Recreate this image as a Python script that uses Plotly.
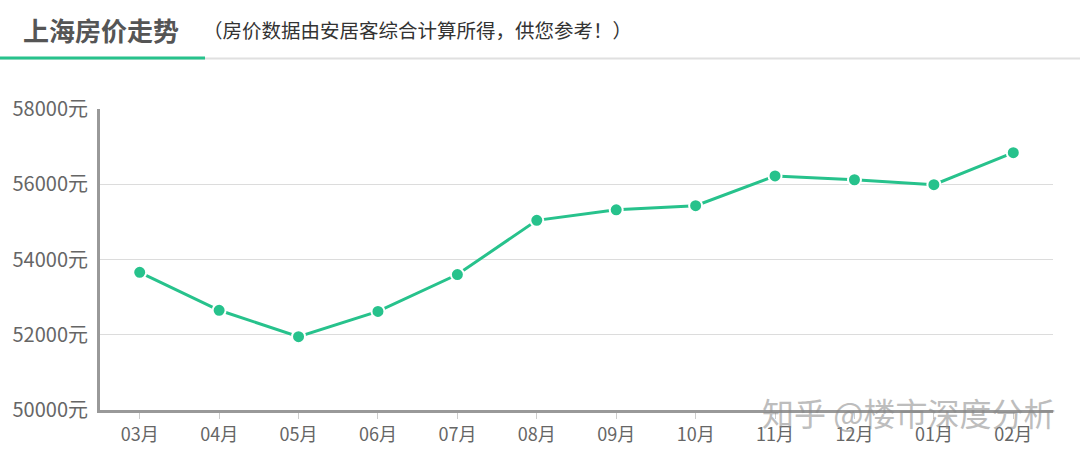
import plotly.graph_objects as go

months = ["03月", "04月", "05月", "06月", "07月", "08月", "09月", "10月", "11月", "12月", "01月", "02月"]
prices = [53660, 52650, 51950, 52620, 53600, 55040, 55320, 55430, 56220, 56120, 55990, 56840]
y_ticks = [50000, 52000, 54000, 56000, 58000]
y_tick_labels = [f"{v}元" for v in y_ticks]

W, H = 1080, 461
ML, MR, MT, MB = 100, 27, 109, 51
PW, PH = W - ML - MR, H - MT - MB

def px_x(p):
    return (p - ML) / PW

def px_y(p):
    return (H - MB - p) / PH

FONT = "Noto Sans CJK SC, Microsoft YaHei, sans-serif"
GREEN = "#27c28c"

fig = go.Figure()
fig.add_trace(go.Scatter(
    x=months, y=prices, mode="lines+markers",
    line=dict(color=GREEN, width=3),
    marker=dict(size=13, color=GREEN, line=dict(color="white", width=2)),
    showlegend=False, cliponaxis=False,
))

fig.update_layout(
    width=W, height=H,
    margin=dict(l=ML, r=MR, t=MT, b=MB, autoexpand=False),
    paper_bgcolor="white", plot_bgcolor="white",
    font=dict(family=FONT, color="#666"),
    xaxis=dict(
        type="category", range=[-0.5, 11.5], automargin=False,
        showgrid=False, showline=True, linecolor="#999", linewidth=3,
        ticks="outside", ticklen=6, tickcolor="#ccc", tickwidth=1,
        tickfont=dict(size=18, color="#666"),
    ),
    yaxis=dict(
        range=[50000, 58000], tickvals=y_ticks, ticktext=y_tick_labels,
        automargin=False,
        showgrid=True, gridcolor="#dcdcdc", gridwidth=1,
        showline=True, linecolor="#999", linewidth=3,
        ticks="", ticklabelstandoff=5,
        tickfont=dict(size=20, color="#666"), zeroline=False,
    ),
    shapes=[
        dict(type="line", xref="paper", yref="paper",
             x0=px_x(0), x1=px_x(W), y0=px_y(58.5), y1=px_y(58.5),
             line=dict(color="#e0e0e0", width=2)),
        dict(type="line", xref="paper", yref="paper",
             x0=px_x(0), x1=px_x(205), y0=px_y(58), y1=px_y(58),
             line=dict(color=GREEN, width=3)),
    ],
    annotations=[
        dict(text="<b>上海房价走势</b>", xref="paper", yref="paper",
             x=px_x(21), y=px_y(30), xanchor="left", yanchor="middle",
             showarrow=False, font=dict(size=26, color="#555", family=FONT)),
        dict(text="（房价数据由安居客综合计算所得，供您参考！）", xref="paper", yref="paper",
             x=px_x(201), y=px_y(29), xanchor="left", yanchor="middle",
             showarrow=False, font=dict(size=19.5, color="#333", family=FONT)),
        dict(text="知乎 @楼市深度分析", xref="paper", yref="paper",
             x=px_x(1057), y=px_y(412), xanchor="right", yanchor="middle",
             showarrow=False, opacity=0.55,
             font=dict(size=32, color="#888", family=FONT)),
    ],
)

fig.write_html("out.html", config={"displayModeBar": False},
               post_script="document.body.style.margin='0';document.body.style.overflow='hidden';")
